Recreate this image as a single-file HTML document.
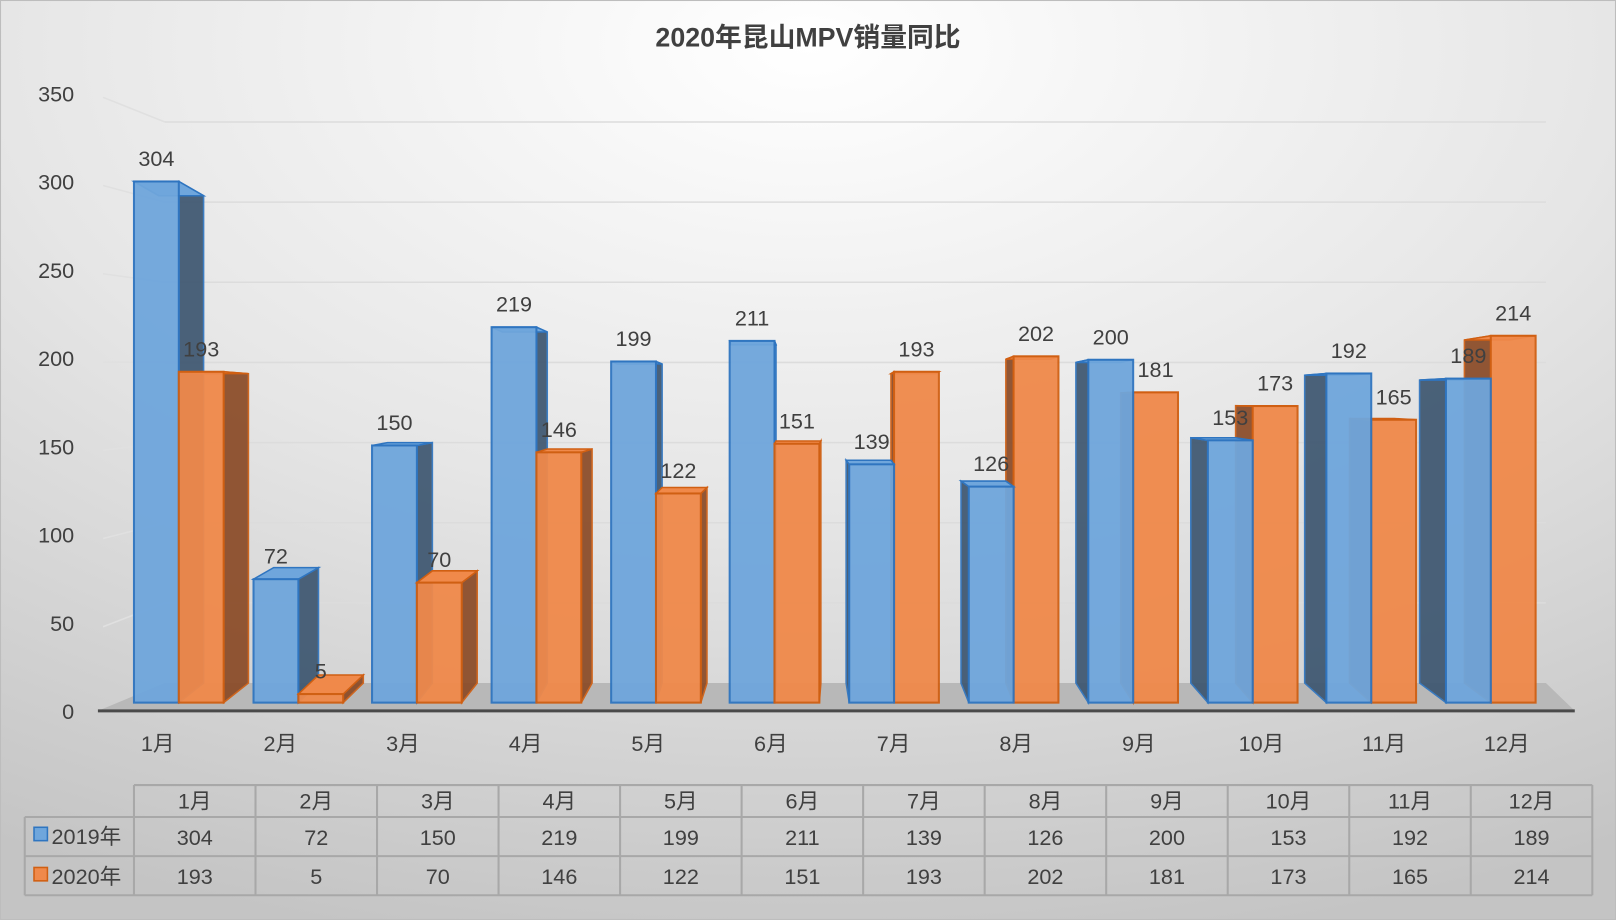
<!DOCTYPE html>
<html><head><meta charset="utf-8">
<style>
html,body{margin:0;padding:0;width:1616px;height:920px;overflow:hidden;background:#ccc}
svg{display:block}
text{font-family:"Liberation Sans","Noto Sans CJK SC",sans-serif;fill:#404040}
</style></head><body>
<svg id="s" width="1616" height="920" viewBox="0 0 1568 893" preserveAspectRatio="none" xmlns="http://www.w3.org/2000/svg">
<defs>
<radialGradient id="bg" cx="0.5" cy="0.05" r="1.0">
<stop offset="0" stop-color="#ffffff"/><stop offset="0.5" stop-color="#e6e6e6"/><stop offset="1" stop-color="#c4c4c4"/>
</radialGradient>
</defs>
<rect x="0" y="0" width="1568" height="893" fill="url(#bg)" stroke="#bdbdbd" stroke-width="2"/>
<text x="784" y="45" font-size="26" font-weight="bold" text-anchor="middle" fill="#333">2020年昆山MPV销量同比</text>
<g id="g"></g>
</svg>
<script>
const g=document.getElementById('g');
let h='';
const b19=[304,72,150,219,199,211,139,126,200,153,192,189];
const b20=[193,5,70,146,122,151,193,202,181,173,165,214];
// y ticks
const yl=[0,50,100,150,200,250,300,350];
yl.forEach(v=>{
  const ly=690-v*1.713;
  h+=`<text x="72" y="${ly+8}" font-size="21" text-anchor="end">${v}</text>`;
  if(v>0){const by=663-v*1.556;
  h+=`<line x1="100" y1="${ly+4}" x2="160" y2="${by}" stroke="#e0e0e0" stroke-width="1.5"/>`;
  h+=`<line x1="160" y1="${by}" x2="1500" y2="${by}" stroke="#dcdcdc" stroke-width="1.5"/>`;}
});
// floor
h+=`<polygon points="160,663 1500,663 1528,690 95,690" fill="#b8b8b8"/>`;
h+=`<line x1="95" y1="690" x2="1528" y2="690" stroke="#4a4a4a" stroke-width="3"/>`;
const starts=[130,246,361,477,593,708,824,940,1056,1172,1287,1403];
const w=43.5;
const BF='#6fa6dc',BS='#3d5670',BE='#2f75c0',OF='#f0894a',OS='#8a4a26',OE='#d05f12';
function bar(x1,v,front,side,edge,d){
  const x2=x1+w, yf=682-v*1.664, yb=663-v*1.556, base=682, bb=663;
  let s='';
  if(d>0){
    s+=`<polygon points="${x2},${yf} ${x2+d},${yb} ${x2+d},${bb} ${x2},${base}" fill="${side}" stroke="${edge}" stroke-width="1.5" opacity="0.92"/>`;
  }else if(d<0){
    s+=`<polygon points="${x1},${yf} ${x1+d},${yb} ${x1+d},${bb} ${x1},${base}" fill="${side}" stroke="${edge}" stroke-width="1.5" opacity="0.92"/>`;
  }
  s+=`<polygon points="${x1},${yf} ${x2},${yf} ${x2+d},${yb} ${x1+d},${yb}" fill="${front}" stroke="${edge}" stroke-width="1.5"/>`;
  s+=`<rect x="${x1}" y="${yf}" width="${w}" height="${base-yf}" fill="${front}" stroke="${edge}" stroke-width="2" opacity="0.95"/>`;
  return s;
}
for(let i=0;i<12;i++){
  const x=starts[i], xc=x+w, d=(790-xc)*0.039;
  if(d>=0){h+=bar(x,b19[i],BF,BS,BE,d);h+=bar(x+w,b20[i],OF,OS,OE,d);}
  else{h+=bar(x+w,b20[i],OF,OS,OE,d);h+=bar(x,b19[i],BF,BS,BE,d);}
  h+=`<text x="${x+w/2}" y="${682-b19[i]*1.664-15}" font-size="21" text-anchor="middle">${b19[i]}</text>`;
  h+=`<text x="${x+w*1.5}" y="${682-b20[i]*1.664-15}" font-size="21" text-anchor="middle">${b20[i]}</text>`;
  h+=`<text x="${153+119*i}" y="729" font-size="21" text-anchor="middle">${i+1}月</text>`;
}
// table
const cw=(1545-130)/12;
h+=`<g stroke="#a8a8a8" stroke-width="2" fill="none">`;
h+=`<line x1="130" y1="762" x2="1545" y2="762"/><line x1="24" y1="793" x2="1545" y2="793"/><line x1="24" y1="831" x2="1545" y2="831"/><line x1="24" y1="869" x2="1545" y2="869"/>`;
h+=`<line x1="24" y1="793" x2="24" y2="869"/>`;
for(let i=0;i<=12;i++){h+=`<line x1="${130+cw*i}" y1="762" x2="${130+cw*i}" y2="869"/>`;}
h+=`</g>`;
for(let i=0;i<12;i++){
  const cx=130+cw*(i+0.5);
  h+=`<text x="${cx}" y="785" font-size="21" text-anchor="middle">${i+1}月</text>`;
  h+=`<text x="${cx}" y="820" font-size="21" text-anchor="middle">${b19[i]}</text>`;
  h+=`<text x="${cx}" y="858" font-size="21" text-anchor="middle">${b20[i]}</text>`;
}
h+=`<rect x="33" y="803" width="13" height="13" fill="${BF}" stroke="${BE}" stroke-width="1.5"/>`;
h+=`<text x="50" y="819" font-size="21">2019年</text>`;
h+=`<rect x="33" y="842" width="13" height="13" fill="${OF}" stroke="${OE}" stroke-width="1.5"/>`;
h+=`<text x="50" y="858" font-size="21">2020年</text>`;
g.innerHTML=h;
</script>
</body></html>
